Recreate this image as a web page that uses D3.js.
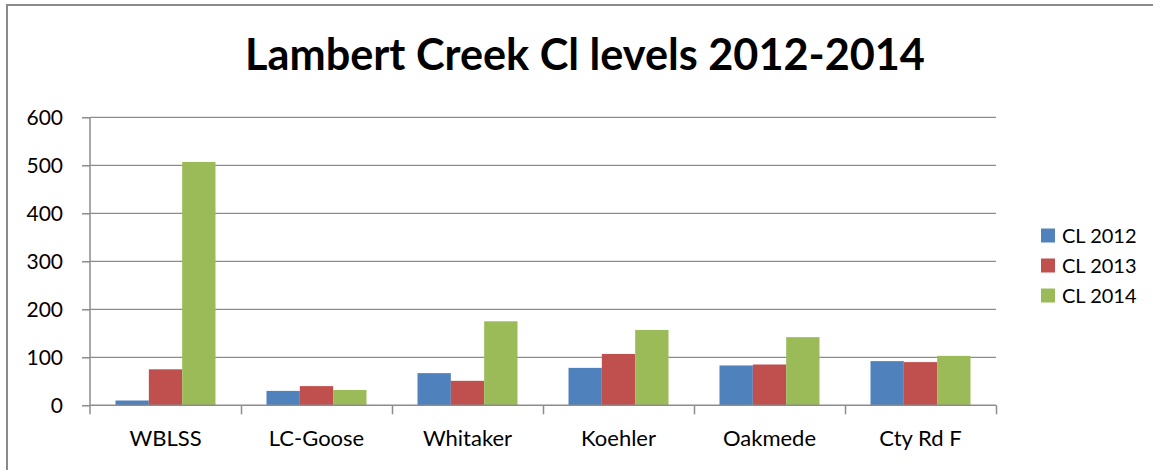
<!DOCTYPE html>
<html>
<head>
<meta charset="utf-8">
<script src="https://cdn.jsdelivr.net/npm/d3@7"></script>
<style>
  html, body { margin: 0; padding: 0; background: #fff; }
  svg { display: block; font-family: Lato, "Open Sans", sans-serif; }
</style>
</head>
<body>
<svg id="chart" width="1153" height="470"></svg>
<script>
const categories = ["WBLSS", "LC-Goose", "Whitaker", "Koehler", "Oakmede", "Cty Rd F"];
const seriesNames = ["CL 2012", "CL 2013", "CL 2014"];
const cl2012 = [10, 30, 67, 78, 83, 92];
const cl2013 = [75, 40, 51, 107, 85, 90];
const cl2014 = [507, 32, 175, 157, 142, 103];
const yTicks = [0, 100, 200, 300, 400, 500, 600];
const colors = ["#4F81BD", "#C0504D", "#9BBB59"];
const chartTitle = "Lambert Creek Cl levels 2012-2014";

(function () {
const seriesValues = [cl2012, cl2013, cl2014];
const svg = d3.select("#chart");

// outer border
svg.append("path")
  .attr("d", "M7,480 L7,5 L1160,5")
  .attr("fill", "none").attr("stroke", "#8a8a8a").attr("stroke-width", 2);

const pLeft = 90, pRight = 996, pTop = 117.3, pBottom = 405.3;

const x0 = d3.scaleBand().domain(categories).range([pLeft, pRight]).padding(0);
const x1 = d3.scaleBand().domain(seriesNames).range([0, x0.bandwidth()]).paddingInner(0).paddingOuter(0.765);
const y = d3.scaleLinear().domain([0, 600]).range([pBottom, pTop]);

// gridlines
svg.append("g").selectAll("line").data(yTicks.filter(d => d > 0)).join("line")
  .attr("x1", pLeft).attr("x2", pRight)
  .attr("y1", d => y(d)).attr("y2", d => y(d))
  .attr("stroke", "#8c8c8c").attr("stroke-width", 1.3);

// bars
const groups = svg.append("g").selectAll("g").data(categories).join("g")
  .attr("transform", c => `translate(${x0(c)},0)`);
groups.selectAll("rect")
  .data((c, i) => seriesNames.map((s, j) => ({ s, j, v: seriesValues[j][i] })))
  .join("rect")
  .attr("x", d => x1(d.s))
  .attr("width", x1.bandwidth())
  .attr("y", d => y(d.v))
  .attr("height", d => y(0) - y(d.v))
  .attr("fill", d => colors[d.j]);

// y axis
const yAxis = svg.append("g").attr("transform", `translate(${pLeft},0)`)
  .call(d3.axisLeft(y).tickValues(yTicks).tickSize(8).tickPadding(19).tickFormat(d3.format("d")));
yAxis.select(".domain").attr("d", `M0,${pTop}V${pBottom + 9}`);
yAxis.selectAll("path, line").attr("stroke", "#8c8c8c").attr("stroke-width", 1.5);
yAxis.selectAll("text").attr("font-size", 21).attr("fill", "#000").attr("font-family", "Lato");

// x axis boundary ticks
const xb = d3.scaleLinear().domain([0, categories.length]).range([pLeft, pRight]);
const xAxisTicks = svg.append("g").attr("transform", `translate(0,${pBottom})`)
  .call(d3.axisBottom(xb).tickValues(d3.range(1, categories.length + 1)).tickSize(9).tickFormat(""));
xAxisTicks.select(".domain").attr("d", `M${pLeft},0H${pRight}`);
xAxisTicks.selectAll("path, line").attr("stroke", "#8c8c8c").attr("stroke-width", 1.5);

// x labels
const xAxis = svg.append("g").attr("transform", `translate(0,${pBottom})`)
  .call(d3.axisBottom(x0).tickSize(0).tickPadding(25));
xAxis.select(".domain").remove();
xAxis.selectAll("text").attr("font-size", 22).attr("fill", "#000").attr("font-family", "Lato");

// title
const t = svg.append("text")
  .attr("x", 585).attr("y", 69.5)
  .attr("text-anchor", "middle")
  .attr("font-weight", "bold")
  .attr("font-size", 38)
  .attr("fill", "#000")
  .text(chartTitle);
const tw = t.node().getComputedTextLength();
t.attr("font-size", 38 * 680 / tw);

// legend
const lg = svg.append("g").selectAll("g").data(seriesNames).join("g")
  .attr("transform", (d, i) => `translate(1041,${228.5 + i * 30})`);
lg.append("rect").attr("width", 14).attr("height", 14).attr("fill", (d, i) => colors[i]);
lg.append("text").attr("x", 21).attr("y", 14).attr("font-size", 20).attr("fill", "#000").text(d => d);
})();
</script>
</body>
</html>
